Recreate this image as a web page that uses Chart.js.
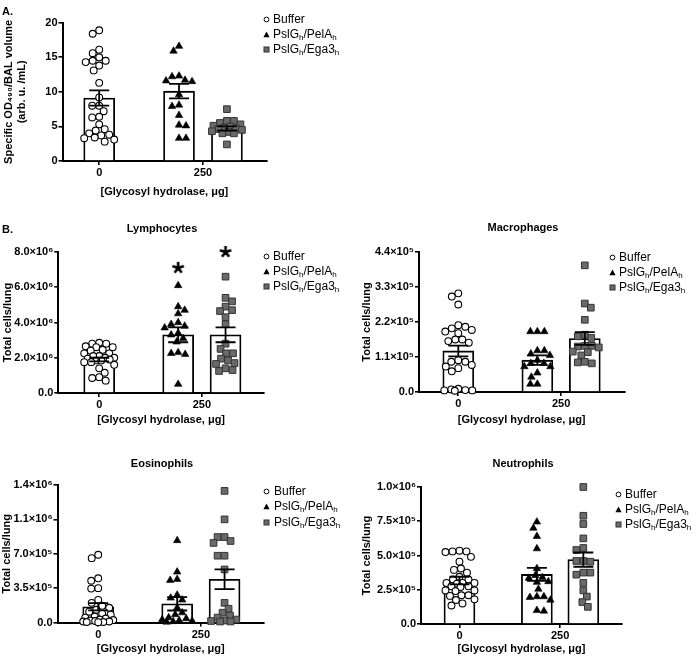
<!DOCTYPE html>
<html>
<head>
<meta charset="utf-8">
<script src="https://cdn.jsdelivr.net/npm/chart.js@4"></script>
<style>
  html, body { margin: 0; padding: 0; background: #fff; }
  #fig { position: relative; width: 700px; height: 656px; overflow: hidden; font-family: 'Liberation Sans', Arial, sans-serif; color: #000; }
  #fig canvas { position: absolute; }
  .lbl { position: absolute; transform: translate(-50%, -50%); font-weight: bold; font-size: 11px; white-space: nowrap; }
  .leg { position: absolute; font-size: 12px; white-space: nowrap; line-height: 15px; height: 15px; }
  .leg svg { position: absolute; left: 0; top: 4px; }
  .leg span { position: absolute; top: 0; }
  .leg sub { font-size: 8px; vertical-align: -2px; line-height: 0; }
</style>
</head>
<body>
<div id="fig"></div>
<script>
// groups and axis text
const groupLabels = ['Buffer', 'PslG<sub>h</sub>/PelA<sub>h</sub>', 'PslG<sub>h</sub>/Ega3<sub>h</sub>'];
const xTickLabels = ['0', '250'];
const xTitle = '[Glycosyl hydrolase, \u03bcg]';
const cellTitles = ['Lymphocytes', 'Macrophages', 'Eosinophils', 'Neutrophils'];

// A. specific OD490 / BAL volume
const odBuffer = [18.9, 18.4, 16.1, 15.6, 15.0, 14.5, 14.5, 14.3, 13.8, 13.1, 11.3, 9.2, 8.0, 8.0, 7.2, 6.4, 6.3, 5.3, 4.6, 4.4, 4.0, 3.8, 3.7, 3.4, 3.3, 3.1, 2.8];
const odPelA = [16.6, 15.9, 12.3, 12.2, 11.7, 11.6, 11.5, 9.6, 8.1, 7.9, 6.6, 5.2, 5.1, 3.3, 3.3];
const odEga3 = [7.5, 5.8, 5.8, 5.5, 5.3, 5.1, 5.0, 4.8, 4.7, 4.6, 4.5, 4.3, 4.2, 4.0, 4.0, 2.4];
const odMean = [9.1, 10.1, 4.7];
const odSem = [1.1, 1.05, 0.3];
const odTicks = [0, 5, 10, 15, 20];
const odTickLabels = ['0', '5', '10', '15', '20'];

// B. lymphocytes
const lymphBuffer = [2.85e6, 2.8e6, 2.8e6, 2.65e6, 2.6e6, 2.6e6, 2.45e6, 2.4e6, 2.25e6, 2.25e6, 2.1e6, 2.1e6, 2.0e6, 2.0e6, 1.95e6, 1.9e6, 1.85e6, 1.85e6, 1.75e6, 1.75e6, 1.6e6, 1.4e6, 1.15e6, 0.9e6, 0.85e6, 0.7e6];
const lymphPelA = [6.1e6, 4.9e6, 4.7e6, 4.5e6, 4.0e6, 3.9e6, 3.8e6, 3.7e6, 3.4e6, 3.3e6, 3.1e6, 2.9e6, 2.3e6, 2.25e6, 2.2e6, 0.5e6];
const lymphEga3 = [6.6e6, 5.4e6, 5.2e6, 4.9e6, 4.7e6, 4.65e6, 4.3e6, 3.9e6, 2.8e6, 2.5e6, 2.25e6, 2.25e6, 1.95e6, 1.85e6, 1.7e6, 1.65e6, 1.4e6, 1.3e6, 1.25e6];
const lymphMean = [1.9e6, 3.3e6, 3.3e6];
const lymphSem = [0.1e6, 0.42e6, 0.42e6];
const lymphStars = [null, 7.1e6, 8.0e6];
const lymphTicks = [0, 2e6, 4e6, 6e6, 8e6];
const lymphTickLabels = ['0.0', '2.0\u00d710\u2076', '4.0\u00d710\u2076', '6.0\u00d710\u2076', '8.0\u00d710\u2076'];

// B. macrophages
const macroBuffer = [3.1e5, 3.0e5, 2.75e5, 2.1e5, 2.05e5, 2.0e5, 1.95e5, 1.9e5, 1.85e5, 1.65e5, 1.65e5, 1.6e5, 1.55e5, 1.0e5, 0.95e5, 0.95e5, 0.85e5, 0.8e5, 0.75e5, 0.65e5, 0.1e5, 0.08e5, 0.06e5, 0.05e5, 0.05e5, 0.04e5];
const macroPelA = [1.9e5, 1.9e5, 1.9e5, 1.3e5, 1.3e5, 1.2e5, 1.15e5, 1.0e5, 0.9e5, 0.9e5, 0.8e5, 0.8e5, 0.6e5, 0.47e5, 0.25e5, 0.25e5];
const macroEga3 = [3.98e5, 2.78e5, 2.65e5, 2.27e5, 1.8e5, 1.75e5, 1.7e5, 1.45e5, 1.45e5, 1.43e5, 1.4e5, 1.27e5, 1.25e5, 1.15e5, 0.95e5, 0.93e5, 0.9e5];
const macroMean = [1.29e5, 1.0e5, 1.68e5];
const macroSem = [0.17e5, 0.15e5, 0.2e5];
const macroTicks = [0, 1.1e5, 2.2e5, 3.3e5, 4.4e5];
const macroTickLabels = ['0.0', '1.1\u00d710\u2075', '2.2\u00d710\u2075', '3.3\u00d710\u2075', '4.4\u00d710\u2075'];

// B. eosinophils
const eosBuffer = [6.9e5, 6.55e5, 4.5e5, 4.25e5, 3.5e5, 3.45e5, 2.3e5, 2.0e5, 1.7e5, 1.5e5, 1.3e5, 1.1e5, 0.9e5, 0.8e5, 0.6e5, 0.5e5, 0.4e5, 0.3e5, 0.25e5, 0.2e5, 0.15e5, 0.1e5, 0.1e5, 0.05e5, 0.05e5, 0.03e5];
const eosPelA = [8.35e5, 5.15e5, 4.4e5, 4.3e5, 2.8e5, 2.5e5, 2.3e5, 1.5e5, 1.0e5, 0.8e5, 0.5e5, 0.4e5, 0.3e5, 0.2e5, 0.15e5, 0.1e5, 0.05e5];
const eosEga3 = [13.4e5, 10.5e5, 8.7e5, 8.7e5, 8.3e5, 8.1e5, 6.8e5, 6.8e5, 5.4e5, 2.0e5, 1.4e5, 1.0e5, 0.7e5, 0.5e5, 0.3e5, 0.2e5, 0.15e5, 0.1e5, 0.1e5];
const eosMean = [1.6e5, 1.9e5, 4.4e5];
const eosSem = [0.37e5, 0.68e5, 1.0e5];
const eosStars = [null, null, 15.1e5];
const eosTicks = [0, 3.5e5, 7.0e5, 10.5e5, 14e5];
const eosTickLabels = ['0.0', '3.5\u00d710\u2075', '7.0\u00d710\u2075', '1.1\u00d710\u2076', '1.4\u00d710\u2076'];

// B. neutrophils
const neutBuffer = [5.35e5, 5.3e5, 5.3e5, 5.25e5, 4.9e5, 4.55e5, 4.05e5, 3.95e5, 3.75e5, 3.45e5, 3.25e5, 3.25e5, 3.0e5, 3.0e5, 3.0e5, 2.95e5, 2.75e5, 2.75e5, 2.7e5, 2.45e5, 2.45e5, 2.4e5, 2.1e5, 2.1e5, 2.05e5, 1.8e5, 1.75e5, 1.5e5, 1.35e5];
const neutPelA = [7.45e5, 7.0e5, 6.4e5, 5.5e5, 4.05e5, 3.55e5, 3.4e5, 3.35e5, 3.1e5, 3.05e5, 2.55e5, 2.0e5, 2.0e5, 1.95e5, 1.75e5, 1.0e5, 0.95e5];
const neutEga3 = [10.0e5, 7.9e5, 7.3e5, 6.25e5, 5.55e5, 5.4e5, 4.6e5, 4.6e5, 4.55e5, 3.75e5, 3.75e5, 3.6e5, 3.0e5, 2.45e5, 2.0e5, 1.6e5, 1.25e5];
const neutMean = [3.17e5, 3.62e5, 4.7e5];
const neutSem = [0.28e5, 0.47e5, 0.52e5];
const neutStars = [null, null, 11.4e5];
const neutTicks = [0, 2.5e5, 5.0e5, 7.5e5, 10e5];
const neutTickLabels = ['0.0', '2.5\u00d710\u2075', '5.0\u00d710\u2075', '7.5\u00d710\u2075', '1.0\u00d710\u2076'];

const FONT = "'Liberation Sans', Arial, sans-serif";
Chart.defaults.font.family = FONT;
Chart.defaults.color = '#000';

const fig = document.getElementById('fig');
const barPos = [0, 1, 1.6];   // buffer, PelA, Ega3 along x
const xTickPos = [0, 1.3];
const UNIT = 80.5;            // px per x unit

const pointStyles = [
  { pointStyle: 'circle', pointRadius: 3.4, backgroundColor: '#fff', borderColor: '#000', borderWidth: 1.1 },
  { pointStyle: 'triangle', pointRadius: 4.3, backgroundColor: '#000', borderColor: '#000', borderWidth: 0.6 },
  { pointStyle: 'rect', pointRadius: 4.7, backgroundColor: '#6a6a6a', borderColor: '#333', borderWidth: 1 }
];

function makeStar() {
  const c = document.createElement('canvas');
  c.width = c.height = 14;
  const g = c.getContext('2d');
  g.strokeStyle = '#000';
  g.lineWidth = 2.6;
  g.beginPath();
  for (let k = 0; k < 5; k++) {
    const a = -Math.PI / 2 + k * 2 * Math.PI / 5;
    g.moveTo(7, 7);
    g.lineTo(7 + 6 * Math.cos(a), 7 + 6 * Math.sin(a));
  }
  g.stroke();
  return c;
}
const starImg = makeStar();

// mean +/- SEM bars on top of everything
const errorBars = {
  id: 'errorBars',
  afterDatasetsDraw(chart, args, opts) {
    const { ctx, scales: { x, y } } = chart;
    ctx.save();
    ctx.strokeStyle = '#000';
    ctx.lineWidth = 1.8;
    opts.mean.forEach((m, i) => {
      const px = x.getPixelForValue(barPos[i]);
      const top = y.getPixelForValue(m + opts.sem[i]);
      const bot = y.getPixelForValue(m - opts.sem[i]);
      ctx.beginPath();
      ctx.moveTo(px, top); ctx.lineTo(px, bot);
      ctx.moveTo(px - 10, top); ctx.lineTo(px + 10, top);
      ctx.moveTo(px - 10, bot); ctx.lineTo(px + 10, bot);
      ctx.stroke();
    });
    ctx.restore();
  }
};

// spread points sideways inside the bar so they overlap as little as possible (layout only)
function swarm(chart) {
  const xs = chart.scales.x, ys = chart.scales.y;
  const pxUnit = xs.getPixelForValue(1) - xs.getPixelForValue(0);
  const D = 7.0, MAXOFF = 15;
  const steps = [0];
  for (let o = 0.5; o <= MAXOFF; o += 0.5) steps.push(o);
  [1, 2, 3].forEach((di, g) => {
    const ds = chart.data.datasets[di];
    const vals = ds.data.map(p => p.y);
    const order = vals.map((_, i) => i).sort((a, b) => vals[b] - vals[a]);
    const placed = [];
    order.forEach((i, n) => {
      const py = ys.getPixelForValue(vals[i]);
      const side = n % 2 ? -1 : 1;
      let best = 0, bestGap = -1;
      for (const s of steps) {
        for (const o of (s === 0 ? [0] : [s * side, -s * side])) {
          let gap = Infinity;
          for (const p of placed) gap = Math.min(gap, Math.hypot(p.x - o, p.y - py));
          if (gap > bestGap + 0.01) { bestGap = gap; best = o; }
          if (gap >= D) break;
        }
        if (bestGap >= D) break;
      }
      placed.push({ x: best, y: py });
      ds.data[i] = { x: barPos[g] + best / pxUnit, y: vals[i] };
    });
  });
  chart.update('none');
}

const axisFont = { size: 11, weight: 'bold' };
const tickGrid = { display: true, drawOnChartArea: false, drawTicks: true, tickLength: 4, color: '#000', lineWidth: 1.6, offset: false };
const axisBorder = { display: true, color: '#000', width: 2 };

function build(p) {
  const cv = document.createElement('canvas');
  cv.width = p.box.w; cv.height = p.box.h;
  cv.style.left = p.box.left + 'px';
  cv.style.top = p.box.top + 'px';
  fig.appendChild(cv);

  const xmin = (p.plot.left - p.plot.c0) / UNIT;
  const xmax = xmin + (p.plot.right - p.plot.left) / UNIT;

  const datasets = [{
    type: 'bar',
    data: barPos.map((x, i) => ({ x, y: p.mean[i] })),
    backgroundColor: '#fff', borderColor: '#000', borderWidth: 1.8,
    barThickness: 31, order: 10
  }];
  p.groups.forEach((vals, g) => datasets.push(Object.assign({
    type: 'scatter', data: vals.map(v => ({ x: barPos[g], y: v })), order: 2, clip: false
  }, pointStyles[g])));
  if (p.stars) {
    datasets.push({
      type: 'scatter',
      data: p.stars.map((v, i) => v == null ? null : { x: barPos[i], y: v }).filter(Boolean),
      pointStyle: starImg, pointRadius: 7, clip: false, order: 0
    });
  }

  const chart = new Chart(cv, {
    type: 'bar',
    data: { datasets },
    plugins: [errorBars],
    options: {
      responsive: false,
      animation: false,
      events: [],
      layout: { padding: { top: p.plot.top - p.box.top, right: p.box.left + p.box.w - p.plot.right, left: 0, bottom: 0 } },
      plugins: {
        legend: { display: false },
        tooltip: { enabled: false },
        errorBars: { mean: p.mean, sem: p.sem }
      },
      scales: {
        x: {
          type: 'linear', min: xmin, max: xmax, offset: false,
          afterFit: s => { s.height = p.box.top + p.box.h - p.plot.bottom; },
          afterBuildTicks: s => { s.ticks = xTickPos.map(v => ({ value: v })); },
          grid: tickGrid,
          border: axisBorder,
          ticks: { autoSkip: false, maxRotation: 0, padding: 1.5, font: axisFont, callback: (v, i) => xTickLabels[i] },
          title: { display: true, text: xTitle, font: axisFont, padding: { top: 0, bottom: p.xTitlePad } }
        },
        y: {
          type: 'linear', min: 0, max: p.yTicks[p.yTicks.length - 1],
          afterFit: s => { s.width = p.plot.left - p.box.left; },
          afterBuildTicks: s => { s.ticks = p.yTicks.map(v => ({ value: v })); },
          grid: tickGrid,
          border: axisBorder,
          ticks: { padding: 1, font: axisFont, callback: (v, i) => p.yLabels[i] },
          title: { display: true, text: p.yTitle, font: axisFont, padding: { top: p.yTitlePad, bottom: 0 } }
        }
      }
    }
  });
  swarm(chart);
}

const cellsTitle = 'Total cells/lung';
const panels = [
  { box: { left: 0, top: 0, w: 272, h: 200 }, plot: { left: 62.5, top: 22.7, right: 268, bottom: 161, c0: 99.5 },
    groups: [odBuffer, odPelA, odEga3], mean: odMean, sem: odSem, stars: null,
    yTicks: odTicks, yLabels: odTickLabels,
    yTitle: ['Specific OD\u2084\u2089\u2080/BAL volume', '(arb. u. /mL)'], yTitlePad: 2, xTitlePad: 1 },
  { box: { left: 0, top: 230, w: 272, h: 200 }, plot: { left: 58.3, top: 252, right: 268, bottom: 393, c0: 100 },
    groups: [lymphBuffer, lymphPelA, lymphEga3], mean: lymphMean, sem: lymphSem, stars: lymphStars,
    yTicks: lymphTicks, yLabels: lymphTickLabels, yTitle: cellsTitle, yTitlePad: 1.4, xTitlePad: 3.4 },
  { box: { left: 355, top: 230, w: 275, h: 200 }, plot: { left: 419, top: 252, right: 628, bottom: 392, c0: 459 },
    groups: [macroBuffer, macroPelA, macroEga3], mean: macroMean, sem: macroSem, stars: null,
    yTicks: macroTicks, yLabels: macroTickLabels, yTitle: cellsTitle, yTitlePad: 5.4, xTitlePad: 3.4 },
  { box: { left: 0, top: 462, w: 272, h: 194 }, plot: { left: 57.5, top: 485, right: 268, bottom: 622.5, c0: 99 },
    groups: [eosBuffer, eosPelA, eosEga3], mean: eosMean, sem: eosSem, stars: eosStars,
    yTicks: eosTicks, yLabels: eosTickLabels, yTitle: cellsTitle, yTitlePad: 0.4, xTitlePad: 0.5 },
  { box: { left: 355, top: 462, w: 275, h: 194 }, plot: { left: 421, top: 487, right: 630, bottom: 624, c0: 461 },
    groups: [neutBuffer, neutPelA, neutEga3], mean: neutMean, sem: neutSem, stars: neutStars,
    yTicks: neutTicks, yLabels: neutTickLabels, yTitle: cellsTitle, yTitlePad: 5.4, xTitlePad: 0.5 }
];
panels.forEach(build);

// panel letters and titles
function label(text, x, y) {
  const d = document.createElement('div');
  d.className = 'lbl';
  d.style.left = x + 'px';
  d.style.top = y + 'px';
  d.textContent = text;
  fig.appendChild(d);
}
label('A.', 7.5, 11);
label('B.', 7.5, 229);
label(cellTitles[0], 162, 228);
label(cellTitles[1], 523, 227);
label(cellTitles[2], 162, 463);
label(cellTitles[3], 523, 463);

// legends: symbol centre x, text x, first row y
const legendSpots = [[266, 273, 19], [266.5, 273, 256], [612, 619, 257], [266.5, 274, 491.5], [618, 625, 494]];
const legendIcons = [
  '<svg width="7" height="7"><circle cx="3.5" cy="3.5" r="2.4" fill="#fff" stroke="#000" stroke-width="1"/></svg>',
  '<svg width="7" height="7"><polygon points="0.4,6.3 3.5,0.6 6.6,6.3" fill="#000"/></svg>',
  '<svg width="7" height="7"><rect x="1" y="1" width="5" height="5" fill="#6a6a6a" stroke="#333" stroke-width="1"/></svg>'
];
legendSpots.forEach(([sx, tx, y0]) => {
  groupLabels.forEach((txt, i) => {
    const row = document.createElement('div');
    row.className = 'leg';
    row.style.left = (sx - 3.5) + 'px';
    row.style.top = (y0 + i * 15.3 - 7.5) + 'px';
    row.innerHTML = legendIcons[i] + '<span style="left:' + (tx - sx + 3.5) + 'px">' + txt + '</span>';
    fig.appendChild(row);
  });
});
</script>
</body>
</html>
